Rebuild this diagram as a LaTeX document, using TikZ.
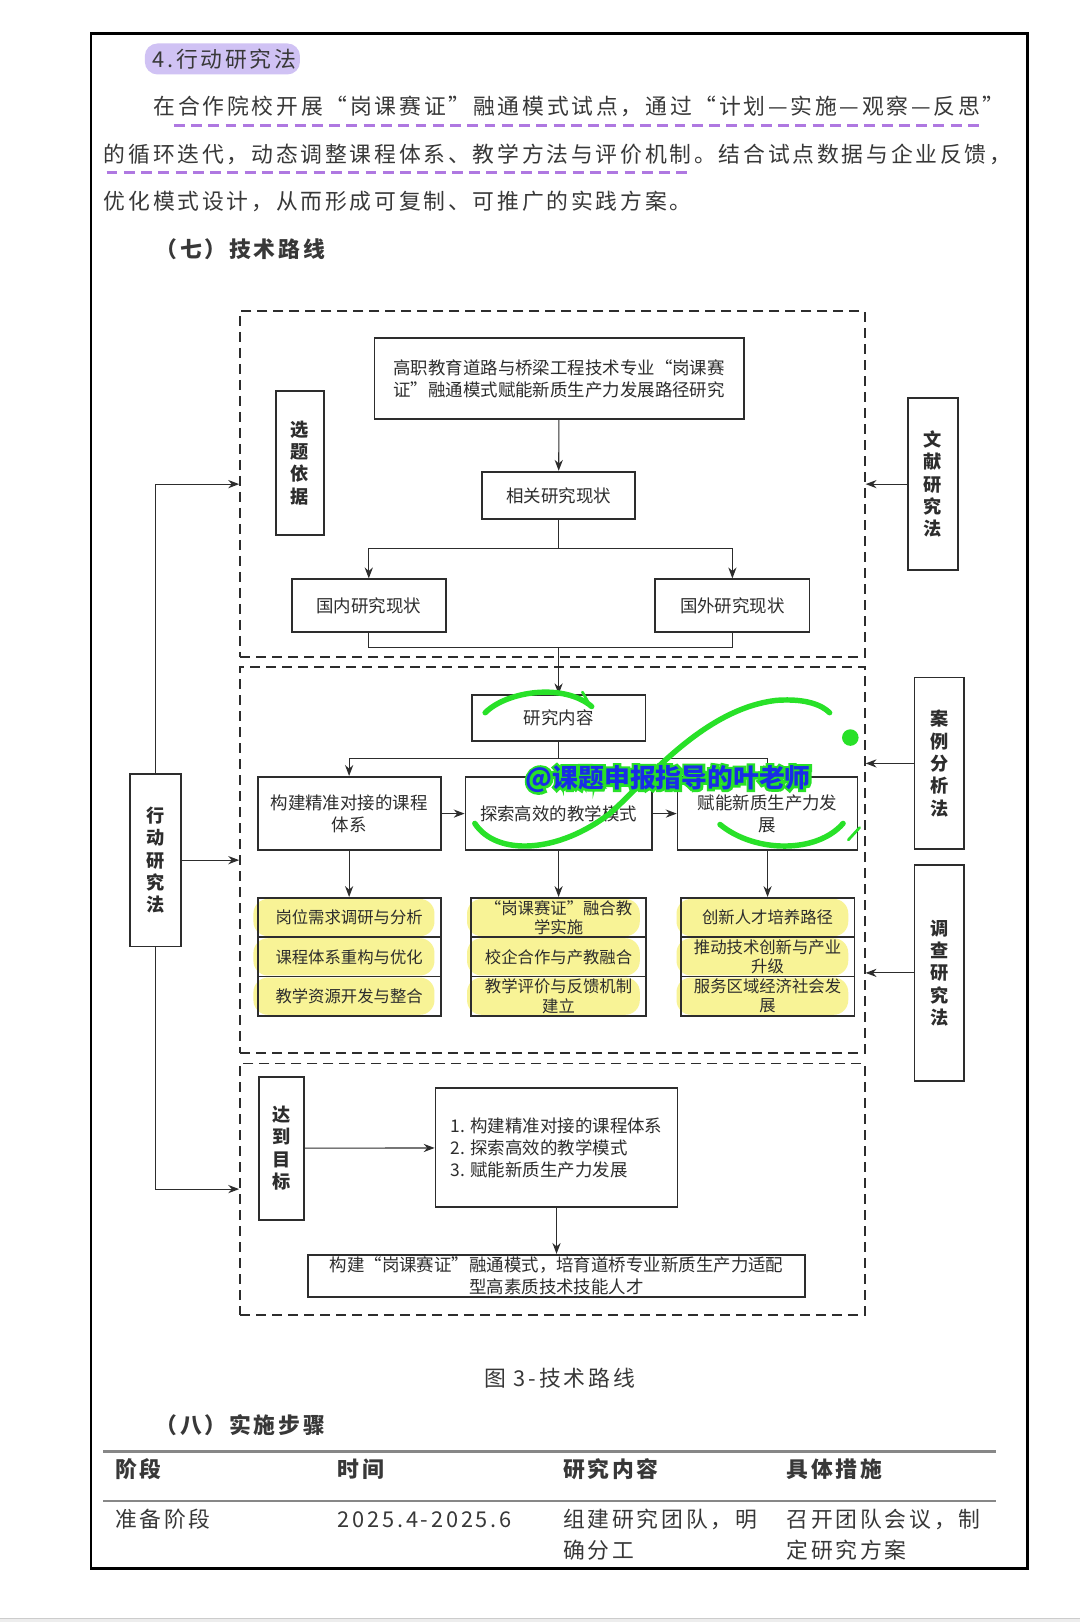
\documentclass[tikz,border=0pt]{standalone}
\usepackage{fontspec}
\setmainfont{Noto Sans CJK SC}
\newfontfamily\bodyfont[LetterSpace=12.8]{Noto Sans CJK SC}
\usetikzlibrary{arrows.meta}
\definecolor{ink}{RGB}{45,45,45}
\definecolor{hlyellow}{RGB}{248,243,150}
\definecolor{hlviolet}{RGB}{208,194,244}
\definecolor{dashviolet}{RGB}{175,120,225}
\definecolor{rulegray}{RGB}{135,135,135}
\definecolor{wmblue}{RGB}{25,45,230}
\definecolor{wmgreen}{RGB}{40,225,40}

\begin{document}
\begin{tikzpicture}[x=0.02cm, y=-0.02cm]
  \tikzstyle{box} = [draw=ink, line width=1pt, text=ink, align=center, inner sep=0pt, font=\fontsize{9.6}{12}\selectfont]
  \tikzstyle{task} = [draw=ink, line width=1pt, text=ink, align=center, inner sep=0pt, minimum height=0.76cm, font=\fontsize{9}{10.5}\selectfont]
  \tikzstyle{vlabel} = [draw=ink, line width=1pt, text=ink, align=center, inner sep=0pt, font=\bfseries\fontsize{10}{12.3}\selectfont]
  \tikzstyle{dashframe} = [draw=ink, line width=1pt, dash pattern=on 5.5pt off 3.3pt, inner sep=0pt]
  \tikzstyle{conn} = [->, >={Stealth[length=6pt, width=4.5pt]}, line width=0.6pt, draw=ink]
  \tikzstyle{wire} = [line width=0.6pt, draw=ink]
  \tikzstyle{para} = [anchor=west, inner sep=0pt, text=black!78, font=\bodyfont\fontsize{12}{14}\selectfont]
  \tikzstyle{parab} = [para, font=\bodyfont\bfseries\fontsize{12}{14}\selectfont]
  \tikzstyle{wmark} = [inner sep=0pt, font=\bfseries\fontsize{14.2}{16}\selectfont]
  \tikzstyle{wmglow} = [inner sep=0pt, text=wmgreen, font=\bfseries\fontsize{14.2}{16}\selectfont\addfontfeature{FakeBold=18}]
  \tikzstyle{swoosh} = [draw=wmgreen, line width=3pt, line cap=round]

  \useasboundingbox (0,0) rectangle (1044,1568);
  \fill[white] (0,0) rectangle (1044,1568);
  \fill[black!7] (0,1565) rectangle (1044,1568);
  \draw[black!20] (0,1564.5) -- (1044,1564.5);
  \draw[black, line width=1.6pt] (88,32) rectangle (993,1516);

  % text above the figure
  \fill[hlviolet, rounded corners=7pt] (140,42) rectangle (290,72);
  \node[para] (head4) at (147,57) {4.行动研究法};
  \node[para] (p1) at (148,103) {在合作院校开展“岗课赛证”融通模式试点，通过“计划—实施—观察—反思”};
  \node[para] (p2) at (100,149) {的循环迭代，动态调整课程体系、教学方法与评价机制。结合试点数据与企业反馈，};
  \node[para] (p3) at (100,195) {优化模式设计，从而形成可复制、可推广的实践方案。};
  \draw[dashviolet, line width=1.5pt, dash pattern=on 6pt off 3.5pt] (168,121) -- (950,121);
  \draw[dashviolet, line width=1.5pt, dash pattern=on 6pt off 3.5pt] (103,167) -- (668,167);
  \node[parab] (sec7) at (150,241) {（七）技术路线};

  % dashed frames
  \node[dashframe, minimum width=12.08cm, minimum height=6.68cm] (fa) at (534,468) {};
  \node[dashframe, minimum width=12.08cm, minimum height=7.46cm] (fb) at (534,831.5) {};
  \node[dashframe, minimum width=12.08cm, minimum height=4.86cm] (fc) at (534,1149.5) {};

  % first frame
  \node[box, minimum width=7.14cm, minimum height=1.56cm] (title) at (540.5,366) {高职教育道路与桥梁工程技术专业“岗课赛\\证”融通模式赋能新质生产力发展路径研究};
  \node[box, minimum width=2.96cm, minimum height=0.92cm] (related) at (540,479) {相关研究现状};
  \node[box, minimum width=2.98cm, minimum height=1.02cm] (domestic) at (356.5,585.5) {国内研究现状};
  \node[box, minimum width=2.98cm, minimum height=1.02cm] (foreign) at (708,585.5) {国外研究现状};
  \node[vlabel, minimum width=0.92cm, minimum height=2.78cm] (basis) at (290,447.5) {选\\题\\依\\据};

  % second frame
  \node[box, minimum width=3.36cm, minimum height=0.88cm] (content) at (540,694) {研究内容};
  \node[box, minimum width=3.54cm, minimum height=1.42cm] (course) at (337.5,786.5) {构建精准对接的课程\\体系};
  \node[box, minimum width=3.6cm, minimum height=1.42cm] (teach) at (540,786.5) {探索高效的教学模式};
  \node[box, minimum width=3.48cm, minimum height=1.42cm] (empower) at (742,786.5) {赋能新质生产力发\\展};

  \foreach \cx/\w in {337.5/177, 540/169, 742/168}
    \foreach \cy in {887,925,963}
      \fill[hlyellow, rounded corners=8pt] ({\cx-\w/2-4},{\cy-18}) rectangle ({\cx+\w/2-6},{\cy+18});

  \node[task, minimum width=3.54cm] (ga1) at (337.5,887) {岗位需求调研与分析};
  \node[task, minimum width=3.54cm] (ga2) at (337.5,925) {课程体系重构与优化};
  \node[task, minimum width=3.54cm] (ga3) at (337.5,963) {教学资源开发与整合};
  \node[task, minimum width=3.38cm] (gb1) at (540,887) {“岗课赛证”融合教\\学实施};
  \node[task, minimum width=3.38cm] (gb2) at (540,925) {校企合作与产教融合};
  \node[task, minimum width=3.38cm] (gb3) at (540,963) {教学评价与反馈机制\\建立};
  \node[task, minimum width=3.36cm] (gc1) at (742,887) {创新人才培养路径};
  \node[task, minimum width=3.36cm] (gc2) at (742,925) {推动技术创新与产业\\升级};
  \node[task, minimum width=3.36cm] (gc3) at (742,963) {服务区域经济社会发\\展};

  % third frame
  \node[vlabel, minimum width=0.88cm, minimum height=2.76cm] (goal) at (272,1110) {达\\到\\目\\标};
  \node[box, minimum width=4.68cm, minimum height=2.3cm, align=left] (goals) at (538,1109.5) {1. 构建精准对接的课程体系\\2. 探索高效的教学模式\\3. 赋能新质生产力发展};
  \node[box, minimum width=9.6cm, minimum height=0.82cm] (result) at (538,1233.5) {构建“岗课赛证”融通模式，培育道桥专业新质生产力适配\\型高素质技术技能人才};

  % methods
  \node[vlabel, minimum width=0.98cm, minimum height=3.34cm] (action) at (150.5,831.5) {行\\动\\研\\究\\法};
  \node[vlabel, minimum width=0.96cm, minimum height=3.32cm] (lit) at (902,468) {文\\献\\研\\究\\法};
  \node[vlabel, minimum width=0.96cm, minimum height=3.32cm] (case) at (908,738) {案\\例\\分\\析\\法};
  \node[vlabel, minimum width=0.96cm, minimum height=4.18cm] (survey) at (908,940.5) {调\\查\\研\\究\\法};

  % connectors
  \coordinate (split1) at (540,530);
  \coordinate (join1) at (540,626);
  \coordinate (split2) at (540,733);
  \draw[conn] (title) -- (related);
  \draw[wire] (related) -- (split1);
  \draw[conn] (split1) -| (domestic);
  \draw[conn] (split1) -| (foreign);
  \draw[wire] (domestic) |- (join1) -| (foreign);
  \draw[conn] (join1) -- (content);
  \draw[wire] (content) -- (split2);
  \draw[conn] (split2) -| (course);
  \draw[conn] (split2) -| (empower);
  \draw[conn] (course) -- (teach);
  \draw[conn] (teach) -- (empower);
  \draw[conn] (course) -- (ga1);
  \draw[conn] (teach) -- (gb1);
  \draw[conn] (empower) -- (gc1);
  \draw[conn] (action) |- (fa.west);
  \draw[conn] (action) -- (fb.west);
  \draw[conn] (action) |- (fc.west);
  \draw[conn] (lit) -- (fa.east);
  \draw[conn] (case) -- (case -| fb.east);
  \draw[conn] (survey) -- (survey -| fb.east);
  \draw[conn] (goal) -- (goals);
  \draw[conn] (goals) -- (result);

  % text below the figure
  \node[para, anchor=center] (caption) at (541,1332) {图 3-技术路线};
  \node[parab] (sec8) at (150,1378) {（八）实施步骤};
  \draw[rulegray, line width=1.6pt] (100,1403) -- (963,1403);
  \draw[rulegray, line width=1.6pt] (100,1451) -- (963,1451);
  \node[parab] (h1) at (111,1420) {阶段};
  \node[parab] (h2) at (326,1420) {时间};
  \node[parab] (h3) at (544,1420) {研究内容};
  \node[parab] (h4) at (760,1420) {具体措施};
  \node[para] (r1) at (111,1469) {准备阶段};
  \node[para] (r2) at (326,1469) {2025.4-2025.6};
  \node[para] (r3) at (544,1469) {组建研究团队，明};
  \node[para] (r3b) at (544,1499) {确分工};
  \node[para] (r4) at (760,1469) {召开团队会议，制};
  \node[para] (r4b) at (760,1499) {定研究方案};

  % watermark
  \draw[swoosh] (469,689) .. controls (490,668) and (545,660) .. (572,683);
  \draw[swoosh, line width=1.5pt] (563,669) -- (571,683);
  \draw[swoosh] (459,796) .. controls (480,828) and (540,825) .. (590,786) .. controls (625,755) and (680,685) .. (751,677) .. controls (780,675) and (795,682) .. (802,689);
  \draw[swoosh] (696,797) .. controls (730,825) and (790,825) .. (815,796);
  \draw[swoosh, line width=1.5pt] (820,812) -- (831,800);
  \fill[wmgreen] (822,713) circle (8);
  \node[wmglow] (wmg) at (646,753) {@课题申报指导的叶老师};
  \node[wmark, text=wmblue] (wm) at (646,753) {@课题申报指导的叶老师};
\end{tikzpicture}
\end{document}
